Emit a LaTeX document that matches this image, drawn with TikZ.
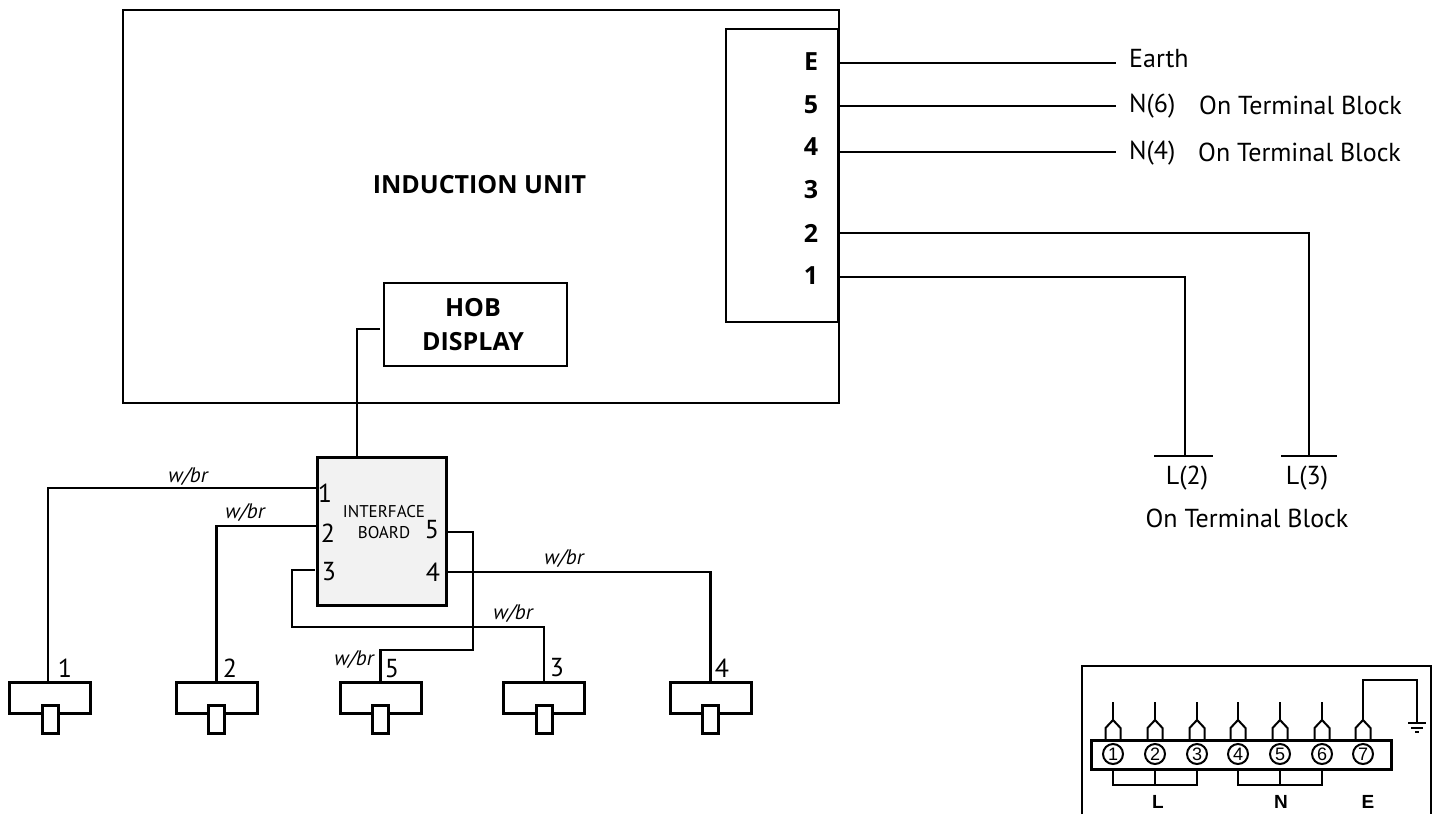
\documentclass[tikz,border=0pt]{standalone}
\usepackage{fontspec}
\setmainfont{PT Sans}
\newfontfamily\arialfont{Liberation Sans}
\newfontfamily\headfont{Open Sans}
\tikzset{
  wire/.style={line width=2.8pt},
  thinbox/.style={draw, line width=2pt, inner sep=0pt, outer sep=0pt},
  wirebox/.style={draw, line width=3pt, inner sep=0pt, outer sep=0pt},
  txt/.style={inner sep=0pt, font=\fontsize{26}{30}\selectfont},
  boldtxt/.style={inner sep=0pt, align=center, font=\fontsize{25}{29}\selectfont\headfont\bfseries},
  smalltxt/.style={inner sep=0pt, align=center, font=\fontsize{17}{21}\selectfont},
  wirelbl/.style={inner sep=0pt, font=\fontsize{21}{24}\selectfont\itshape},
  sensorbody/.style={wirebox, minimum width=81pt, minimum height=31pt},
  sensorplug/.style={wirebox, fill=white, minimum width=16pt, minimum height=28pt},
  clamp/.style={draw, circle, line width=2pt, inner sep=0pt, outer sep=0pt, minimum size=20pt,
    font=\fontsize{18}{20}\selectfont\arialfont},
  blocklbl/.style={inner sep=0pt, font=\fontsize{19}{21}\selectfont\bfseries\arialfont},
  lug/.pic={
    \draw[line width=2pt] (-7.5,0) -- (-7.5,-12) -- (0,-20) -- (7.5,-12) -- (7.5,0);
    \draw[line width=2pt] (0,-20) -- (0,-38);
  }
}
\begin{document}
\begin{tikzpicture}[x=1pt, y=-1pt]
\useasboundingbox (0,0) rectangle (1439,814);

% induction unit
\node[thinbox, minimum width=716pt, minimum height=393pt] (unit) at (481,206.5) {};
\node[boldtxt] (unitlbl) at (479.5,185) {INDUCTION UNIT};
\node[thinbox, minimum width=112pt, minimum height=293pt] (strip) at (782,175.5) {};
\node[thinbox, minimum width=183pt, minimum height=83pt] (hob) at (475.5,324.5) {};
\node[boldtxt] (hob1) at (473,308) {HOB};
\node[boldtxt] (hob2) at (473,342) {DISPLAY};

% unit terminals
\node[boldtxt] (tE) at (811,62) {E};
\node[boldtxt] (t5) at (811,105) {5};
\node[boldtxt] (t4) at (811,147) {4};
\node[boldtxt] (t3) at (811,190) {3};
\node[boldtxt] (t2) at (811,233) {2};
\node[boldtxt] (t1) at (811,276) {1};

% wire ends on the right
\node[txt, anchor=west] (earth) at (1129,59) {Earth};
\node[txt, anchor=west] (n6) at (1129,106) {N(6)};
\node[txt, anchor=west] (n6b) at (1199,105) {On Terminal Block};
\node[txt, anchor=west] (n4) at (1129,153) {N(4)};
\node[txt, anchor=west] (n4b) at (1198,152) {On Terminal Block};
\coordinate (pinE) at (839,63);
\coordinate (pin5) at (839,106);
\coordinate (pin4) at (839,152);
\coordinate (pin2) at (839,233);
\coordinate (pin1) at (839,277);
\coordinate (endE) at (1116,63);
\coordinate (end5) at (1116,106);
\coordinate (end4) at (1116,152);
\draw[wire] (pinE) -- (endE);
\draw[wire] (pin5) -- (end5);
\draw[wire] (pin4) -- (end4);

% live bars
\coordinate (barl2) at (1154,456);
\coordinate (barr2) at (1213,456);
\coordinate (barl3) at (1281,456);
\coordinate (barr3) at (1337,456);
\coordinate (top2) at (1185,456);
\coordinate (top3) at (1309,456);
\draw[wire] (barl2) -- (barr2);
\draw[wire] (barl3) -- (barr3);
\draw[wire] (pin1) -| (top2);
\draw[wire] (pin2) -| (top3);
\node[txt] (l2) at (1187,478) {L(2)};
\node[txt] (l3) at (1307,478) {L(3)};
\node[txt] (otb) at (1247,518) {On Terminal Block};

% interface board
\node[wirebox, fill=black!5, minimum width=129pt, minimum height=148pt] (board) at (381.5,531) {};
\node[smalltxt] (boardlbl) at (384,522) {INTERFACE\\BOARD};
\node[txt] (i1) at (325,493) {1};
\node[txt] (i2) at (328,533) {2};
\node[txt] (i3) at (329,572) {3};
\node[txt] (i5) at (432,530) {5};
\node[txt] (i4) at (433,572) {4};
\coordinate (b1) at (317,488);
\coordinate (b2) at (317,526);
\coordinate (b3) at (315,570);
\coordinate (b5) at (447,532);
\coordinate (b4) at (446,572);
\coordinate (bt) at (357,457);
\coordinate (ht) at (380,329);
\coordinate (w3) at (292,627);
\coordinate (w5) at (473,650);
\draw[wire] (ht) -| (bt);

% sensors
\node[sensorbody] (s1) at (50,698) {};
\node[sensorbody] (s2) at (216.5,698) {};
\node[sensorbody] (s5) at (380.5,698) {};
\node[sensorbody] (s3) at (544,698) {};
\node[sensorbody] (s4) at (710.5,698) {};
\node[sensorplug] (p1) at (50,719) {};
\node[sensorplug] (p2) at (216,719) {};
\node[sensorplug] (p5) at (380,719) {};
\node[sensorplug] (p3) at (544.5,719) {};
\node[sensorplug] (p4) at (710.5,719) {};
\node[txt] (n1) at (65,668) {1};
\node[txt] (n2) at (230,668) {2};
\node[txt] (n5) at (392,669) {5};
\node[txt] (n3) at (557,668) {3};
\node[txt] (n4s) at (722,668) {4};

\draw[wire] (b1) -| ([xshift=-2pt]s1.north);
\draw[wire] (b2) -| (s2.north);
\draw[wire] (b3) -| (w3) -| (s3.north);
\draw[wire] (b5) -| (w5) -| (s5.north);
\draw[wire] (b4) -| (s4.north);

\node[wirelbl] (lb1) at (188,477) {w/br};
\node[wirelbl] (lb2) at (245,513) {w/br};
\node[wirelbl] (lb5) at (354,660) {w/br};
\node[wirelbl] (lb3) at (513,614) {w/br};
\node[wirelbl] (lb4) at (564,559) {w/br};

% terminal block
\draw[line width=2.4pt] (1082,814) -- (1082,666) -- (1431,666) -- (1431,814);
\node[wirebox, minimum width=300pt, minimum height=29pt] (block) at (1241,754.5) {};
\node[clamp] (c1) at (1113,754) {1};
\node[clamp] (c2) at (1155,754) {2};
\node[clamp] (c3) at (1197,754) {3};
\node[clamp] (c4) at (1238,754) {4};
\node[clamp] (c5) at (1280,754) {5};
\node[clamp] (c6) at (1322,754) {6};
\node[clamp] (c7) at (1363,754) {7};
\pic at (c1 |- block.north) {lug};
\pic at (c2 |- block.north) {lug};
\pic at (c3 |- block.north) {lug};
\pic at (c4 |- block.north) {lug};
\pic at (c5 |- block.north) {lug};
\pic at (c6 |- block.north) {lug};
\pic at (c7 |- block.north) {lug};

% bridges
\coordinate (jL) at (1155,785);
\coordinate (jN) at (1280,785);
\draw[wire] (c1 |- block.south) |- (jL) -| (c3 |- block.south);
\draw[wire] (c2 |- block.south) -- (jL);
\draw[wire] (c4 |- block.south) |- (jN) -| (c6 |- block.south);
\draw[wire] (c5 |- block.south) -- (jN);
\node[blocklbl] (lblL) at (1158,802) {L};
\node[blocklbl] (lblN) at (1281,802) {N};
\node[blocklbl] (lblE) at (1368,802) {E};

% earth
\coordinate (gnd) at (1417,723);
\coordinate (g1l) at (1408,723);
\coordinate (g1r) at (1426,723);
\coordinate (g2l) at (1411,728);
\coordinate (g2r) at (1423,728);
\coordinate (g3l) at (1415,732);
\coordinate (g3r) at (1419,732);
\draw[line width=2.4pt] (1363,702) -- (1363,680) -| (gnd);
\draw[line width=1.6pt] (g1l) -- (g1r);
\draw[line width=1.6pt] (g2l) -- (g2r);
\draw[line width=1.6pt] (g3l) -- (g3r);
\end{tikzpicture}
\end{document}
